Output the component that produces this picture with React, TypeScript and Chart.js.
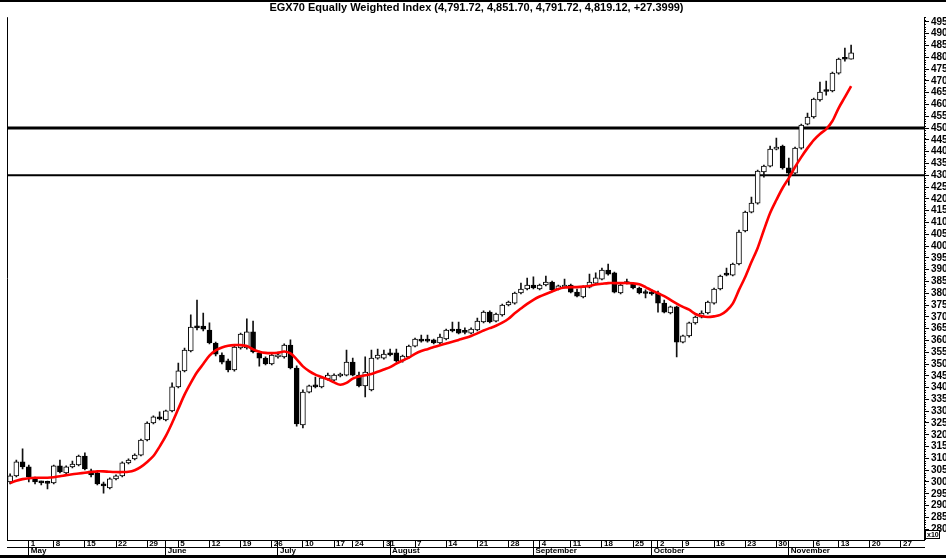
import React, { useEffect, useRef } from 'react';
import { Chart, registerables } from 'chart.js';

Chart.register(...registerables);

const titleText = 'EGX70 Equally Weighted Index (4,791.72, 4,851.70, 4,791.72, 4,819.12, +27.3999)';

// OHLC per trading day (index 0 = first visible session, late April 2023)
const opens = [
  3000, 3026, 3085, 3064, 3013, 2997, 2996, 2996, 3068, 3038,
  3064, 3072, 3110, 3047, 3038, 2992, 2975, 3013, 3026, 3081,
  3098, 3114, 3178, 3250, 3276, 3263, 3301, 3403, 3471, 3555,
  3661, 3661, 3644, 3589, 3538, 3513, 3475, 3568, 3568, 3636,
  3547, 3525, 3500, 3530, 3530, 3580, 3483, 3242, 3381, 3411,
  3403, 3437, 3432, 3449, 3453, 3508, 3453, 3407, 3390, 3525,
  3525, 3547, 3547, 3513, 3530, 3576, 3606, 3602, 3602, 3589,
  3606, 3648, 3648, 3636, 3631, 3644, 3678, 3720, 3682, 3708,
  3750, 3758, 3801, 3818, 3835, 3818, 3835, 3847, 3818, 3826,
  3835, 3805, 3784, 3826, 3843, 3860, 3898, 3886, 3801, 3843,
  3839, 3822, 3801, 3805, 3801, 3758, 3716, 3742, 3593, 3619,
  3674, 3699, 3716, 3758, 3818, 3881, 3877, 3924, 4064, 4144,
  4182, 4314, 4339, 4411, 4424, 4331, 4309, 4415, 4517, 4547,
  4619, 4657, 4657, 4733, 4796, 4791.72,
];
const highs = [
  3034, 3093, 3140, 3072, 3021, 3004, 3004, 3072, 3093, 3068,
  3089, 3114, 3123, 3055, 3043, 3000, 3017, 3030, 3085, 3098,
  3119, 3182, 3255, 3280, 3297, 3305, 3420, 3504, 3568, 3708,
  3771, 3716, 3674, 3593, 3547, 3521, 3580, 3631, 3691, 3682,
  3555, 3530, 3542, 3551, 3585, 3602, 3492, 3390, 3411, 3445,
  3445, 3462, 3458, 3462, 3559, 3525, 3466, 3530, 3559, 3563,
  3559, 3563, 3563, 3538, 3580, 3610, 3623, 3623, 3606, 3627,
  3648, 3678, 3678, 3653, 3653, 3695, 3725, 3725, 3716, 3754,
  3767, 3805, 3843, 3864, 3869, 3839, 3873, 3852, 3835, 3860,
  3839, 3818, 3831, 3881, 3886, 3907, 3924, 3890, 3839, 3860,
  3843, 3826, 3814, 3814, 3809, 3771, 3746, 3746, 3623, 3678,
  3703, 3725, 3767, 3822, 3877, 3907, 3928, 4068, 4148, 4208,
  4322, 4343, 4424, 4458, 4428, 4373, 4420, 4517, 4564, 4627,
  4695, 4699, 4737, 4797, 4839, 4851.7,
];
const lows = [
  2992, 3021, 3055, 3000, 2992, 2987, 2970, 2992, 3038, 3034,
  3060, 3068, 3051, 3021, 2987, 2953, 2970, 3009, 3021, 3076,
  3093, 3110, 3174, 3246, 3263, 3259, 3297, 3399, 3466, 3551,
  3644, 3640, 3585, 3534, 3500, 3466, 3470, 3563, 3563, 3547,
  3491, 3496, 3496, 3525, 3525, 3479, 3237, 3229, 3377, 3399,
  3399, 3432, 3428, 3445, 3449, 3449, 3403, 3360, 3386, 3521,
  3521, 3534, 3508, 3508, 3525, 3572, 3593, 3593, 3585, 3585,
  3602, 3636, 3627, 3627, 3627, 3640, 3674, 3674, 3678, 3703,
  3746, 3754, 3797, 3814, 3818, 3814, 3831, 3809, 3814, 3822,
  3801, 3784, 3780, 3822, 3839, 3856, 3877, 3801, 3797, 3839,
  3818, 3797, 3780, 3792, 3720, 3716, 3712, 3530, 3589, 3614,
  3669, 3695, 3712, 3754, 3814, 3873, 3873, 3920, 4060, 4140,
  4178, 4292, 4335, 4407, 4326, 4258, 4305, 4411, 4513, 4542,
  4614, 4640, 4653, 4729, 4784, 4791.72,
];
const closes = [
  3026, 3085, 3064, 3021, 3000, 2996, 2994, 3068, 3043, 3064,
  3076, 3110, 3055, 3030, 2992, 2983, 3013, 3026, 3081, 3093,
  3114, 3178, 3250, 3276, 3267, 3301, 3403, 3471, 3559, 3657,
  3653, 3648, 3589, 3542, 3508, 3475, 3572, 3627, 3636, 3551,
  3525, 3500, 3538, 3538, 3580, 3483, 3246, 3381, 3407, 3403,
  3441, 3453, 3453, 3453, 3508, 3453, 3407, 3466, 3525, 3538,
  3542, 3538, 3513, 3534, 3576, 3606, 3597, 3597, 3589, 3614,
  3644, 3640, 3631, 3634, 3648, 3682, 3720, 3678, 3712, 3750,
  3763, 3801, 3818, 3835, 3822, 3835, 3847, 3814, 3831, 3835,
  3805, 3788, 3826, 3847, 3865, 3898, 3881, 3805, 3835, 3841,
  3822, 3801, 3799, 3797, 3758, 3720, 3742, 3593, 3619, 3674,
  3699, 3716, 3763, 3818, 3873, 3877, 3924, 4059, 4144, 4182,
  4318, 4339, 4411, 4420, 4331, 4309, 4415, 4513, 4547, 4623,
  4653, 4655, 4733, 4792, 4791.72, 4819.12,
];
// red moving-average line
const movingAvg = [
  2995, 3005, 3012, 3016, 3018, 3018, 3018, 3020, 3024, 3029,
  3033, 3036, 3039, 3042, 3045, 3045, 3043, 3042, 3042, 3043,
  3050, 3064, 3085, 3110, 3150, 3195, 3250, 3310, 3370, 3420,
  3465, 3500, 3535, 3558, 3570, 3577, 3580, 3580, 3576, 3562,
  3552, 3547, 3546, 3548, 3553, 3545, 3520, 3490, 3470, 3455,
  3445, 3435, 3422, 3412, 3420, 3438, 3447, 3452, 3458, 3467,
  3477, 3487, 3502, 3515, 3527, 3543, 3555, 3563, 3572, 3580,
  3587, 3594, 3602, 3610, 3619, 3630, 3642, 3652, 3662, 3675,
  3692, 3715, 3735, 3755, 3772, 3786, 3797, 3807, 3818, 3824,
  3826, 3826, 3828, 3831, 3837, 3840, 3843, 3843, 3843, 3843,
  3842, 3838, 3826, 3812, 3800, 3788, 3772, 3756, 3742, 3730,
  3712, 3703, 3699, 3702, 3708, 3726, 3756, 3814, 3869, 3932,
  3992, 4068, 4140, 4195, 4246, 4288, 4335, 4377, 4415, 4449,
  4475, 4496, 4530, 4585, 4631, 4678,
];
const levelValues = [4500, 4300];

// week separators (trading-day index of each Monday) and their labels
const weekTickIdx = [3, 7, 12, 17, 22, 27, 32, 37, 42, 47, 52, 55, 60, 65, 70, 75, 80, 85, 90, 95, 100, 104, 108, 113, 118, 123, 129, 133, 138, 143];
const weekTickLabels = ['1', '8', '15', '22', '29', '5', '12', '19', '26', '10', '17', '24', '31', '7', '14', '21', '28', '4', '11', '18', '25', '2', '9', '16', '23', '30', '6', '13', '20', '27'];
const monthTickIdx = [3, 25, 43, 61, 84, 103, 125];
const monthLabels = ['May', 'June', 'July', 'August', 'September', 'October', 'November'];
const yTicks = [2800, 2850, 2900, 2950, 3000, 3050, 3100, 3150, 3200, 3250, 3300, 3350, 3400, 3450, 3500, 3550, 3600, 3650, 3700, 3750, 3800, 3850, 3900, 3950, 4000, 4050, 4100, 4150, 4200, 4250, 4300, 4350, 4400, 4450, 4500, 4550, 4600, 4650, 4700, 4750, 4800, 4850, 4900, 4950];

const X_MIN = -0.5;
const X_MAX = 146.7;
const Y_MIN = 2754;
const Y_MAX = 4970;
const FONT = 'Liberation Sans';

const zeroPad = (s: any) => {
  s.paddingLeft = 0;
  s.paddingRight = 0;
  s.paddingTop = 0;
  s.paddingBottom = 0;
};

const framePlugin = {
  id: 'frame',
  beforeDraw(chart: any) {
    const { ctx, width, height } = chart;
    ctx.save();
    ctx.fillStyle = '#fff';
    ctx.fillRect(0, 0, width, height);
    ctx.restore();
  },
  afterDraw(chart: any) {
    const { ctx, width, height, chartArea } = chart;
    const y = chart.scales.y;
    ctx.save();
    ctx.fillStyle = '#000';
    ctx.fillRect(0, 0, width, 2);
    ctx.fillRect(0, height - 3, width, 3);
    ctx.strokeStyle = '#000';
    ctx.lineWidth = 1;
    ctx.beginPath();
    ctx.moveTo(Math.round(chartArea.left) + 0.5, chartArea.top);
    ctx.lineTo(Math.round(chartArea.left) + 0.5, chartArea.bottom);
    ctx.stroke();
    // minor ticks on the value axis
    ctx.beginPath();
    for (let v = 2760; v <= Y_MAX; v += 10) {
      if (v % 50 === 0) continue;
      const py = Math.round(y.getPixelForValue(v)) + 0.5;
      ctx.moveTo(chartArea.right, py);
      ctx.lineTo(chartArea.right + 2, py);
    }
    ctx.stroke();
    // multiplier box
    const bx = Math.round(chartArea.right) + 1;
    ctx.fillStyle = '#fff';
    ctx.fillRect(bx, 530, 15, 9);
    ctx.strokeRect(bx + 0.5, 530.5, 14, 8);
    ctx.fillStyle = '#000';
    ctx.font = `bold 7px "${FONT}"`;
    ctx.textBaseline = 'middle';
    ctx.textAlign = 'left';
    ctx.fillText('x10', bx + 2, 535);
    ctx.restore();
  },
};

export default function App() {
  const ref = useRef<HTMLCanvasElement>(null);
  useEffect(() => {
    document.body.style.margin = '0';
    const canvas = ref.current;
    if (!canvas) return;
    const idx = closes.map((_, i) => i);
    const wickData = idx.map((i) => ({ x: i, y: [lows[i], highs[i]] }));
    const bodyData = idx.map((i) => ({ x: i, y: [Math.min(opens[i], closes[i]), Math.max(opens[i], closes[i])] }));
    const bodyColors = idx.map((i) => (closes[i] >= opens[i] ? '#ffffff' : '#000000'));
    const maData = idx.map((i) => ({ x: i, y: movingAvg[i] }));

    const weekMap = new Map<number, string>();
    monthTickIdx.forEach((v) => weekMap.set(v, ''));
    weekTickIdx.forEach((v, i) => weekMap.set(v, weekTickLabels[i]));
    const xTickVals = Array.from(weekMap.keys()).sort((a, b) => a - b);
    const monthMap = new Map<number, string>();
    monthTickIdx.forEach((v, i) => monthMap.set(v, monthLabels[i]));

    const levelSets = levelValues.map((v, i) => ({
      type: 'line' as const,
      data: [{ x: X_MIN, y: v }, { x: X_MAX, y: v }],
      borderColor: '#000',
      borderWidth: i === 0 ? 3 : 2,
      pointRadius: 0,
      order: 5,
    }));

    const chart = new Chart(canvas, {
      type: 'bar',
      data: {
        datasets: [
          ...levelSets,
          {
            type: 'bar',
            data: wickData as any,
            backgroundColor: '#111',
            borderWidth: 0,
            barThickness: 1,
            grouped: false,
            order: 3,
          } as any,
          {
            type: 'bar',
            data: bodyData as any,
            backgroundColor: bodyColors,
            borderColor: '#000',
            borderWidth: 1,
            borderSkipped: false,
            barThickness: 5,
            minBarLength: 2,
            grouped: false,
            order: 2,
          } as any,
          {
            type: 'line',
            data: maData,
            borderColor: '#ff0000',
            borderWidth: 2.6,
            pointRadius: 0,
            tension: 0.3,
            order: 1,
          },
        ],
      },
      options: {
        responsive: false,
        animation: false,
        devicePixelRatio: 1,
        events: [],
        layout: { padding: { left: 7, right: 0, top: 0, bottom: 3 } },
        plugins: {
          legend: { display: false },
          tooltip: { enabled: false },
          title: {
            display: true,
            text: titleText,
            color: '#000',
            font: { family: FONT, size: 11, weight: 'bold' },
            padding: { top: 1, bottom: 3 },
          },
        },
        scales: {
          x: {
            type: 'linear',
            position: 'bottom',
            offset: false,
            weight: 0,
            min: X_MIN,
            max: X_MAX,
            afterBuildTicks: (s: any) => {
              s.ticks = xTickVals.map((v) => ({ value: v }));
            },
            afterFit: (s: any) => {
              s.height = 7;
              zeroPad(s);
            },
            ticks: {
              autoSkip: false,
              maxRotation: 0,
              align: 'start',
              padding: -8,
              labelOffset: 2,
              color: '#000',
              font: { family: FONT, size: 8, weight: 'bold' },
              callback: (v: any) => weekMap.get(Number(v)) ?? '',
            },
            grid: { offset: false, drawOnChartArea: false, drawTicks: true, tickLength: 7, color: '#000', lineWidth: 1 },
            border: { display: true, color: '#000', width: 1 },
          },
          x2: {
            type: 'linear',
            position: 'bottom',
            offset: false,
            weight: 1,
            min: X_MIN,
            max: X_MAX,
            afterBuildTicks: (s: any) => {
              s.ticks = monthTickIdx.map((v) => ({ value: v }));
            },
            afterFit: (s: any) => {
              s.height = 8;
              zeroPad(s);
            },
            ticks: {
              autoSkip: false,
              maxRotation: 0,
              align: 'start',
              padding: -9,
              labelOffset: 2,
              color: '#000',
              font: { family: FONT, size: 8, weight: 'bold' },
              callback: (v: any) => monthMap.get(Number(v)) ?? '',
            },
            grid: { offset: false, drawOnChartArea: false, drawTicks: true, tickLength: 8, color: '#000', lineWidth: 1 },
            border: { display: true, color: '#000', width: 1 },
          },
          y: {
            type: 'linear',
            position: 'right',
            min: Y_MIN,
            max: Y_MAX,
            afterBuildTicks: (s: any) => {
              s.ticks = yTicks.map((v) => ({ value: v }));
            },
            afterFit: (s: any) => {
              s.width = 22;
              zeroPad(s);
            },
            ticks: {
              autoSkip: false,
              padding: 2,
              color: '#000',
              font: { family: FONT, size: 10, weight: 'bold' },
              callback: (v: any) => String(Number(v) / 10),
            },
            grid: { drawOnChartArea: false, drawTicks: true, tickLength: 5, color: '#000', lineWidth: 1 },
            border: { display: true, color: '#000', width: 1 },
          },
        },
      } as any,
      plugins: [framePlugin],
    });
    return () => chart.destroy();
  }, []);
  return <canvas ref={ref} width={946} height={558} style={{ display: 'block', width: 946, height: 558 }} />;
}
